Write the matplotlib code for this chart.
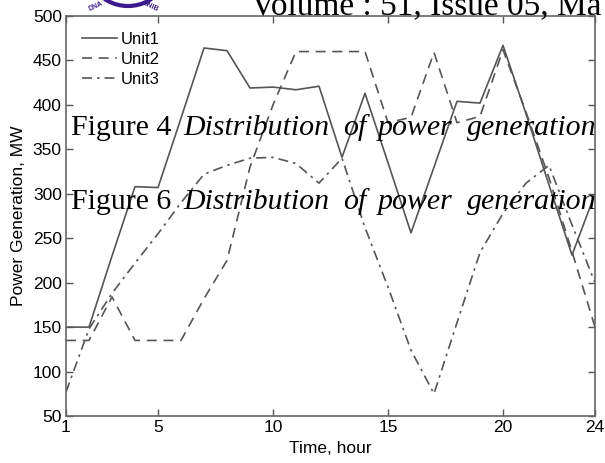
import matplotlib
matplotlib.use("Agg")
import matplotlib.pyplot as plt
from matplotlib.patches import Arc

# hourly power generation per unit (MW)
hours = list(range(1, 25))
unit1 = [150, 150, 230, 308, 307, 385, 464, 461, 419, 420, 417, 421,
         341, 413, 335, 256, 330, 404, 402, 467, 390, 310, 231, 300]
unit2 = [135, 135, 184, 135, 135, 135, 182, 225, 330, 400, 460, 460,
         460, 460, 380, 386, 459, 380, 387, 462, 392, 318, 235, 150]
unit3 = [77, 148, 188, 222, 255, 290, 322, 332, 340, 341, 334, 312,
         340, 262, 195, 124, 75, 155, 234, 278, 312, 332, 265, 200]

xticks = [1, 5, 10, 15, 20, 24]
yticks = list(range(50, 501, 50))

W, H = 605, 463
fig = plt.figure(figsize=(W / 100, H / 100), dpi=100)
plt.rcParams['font.family'] = ['Liberation Sans', 'DejaVu Sans']

ax = fig.add_axes([66 / W, 1 - 416 / H, (595 - 66) / W, 400 / H])

line_col = '#555555'
ax.plot(hours, unit1, '-', color=line_col, lw=1.2, label='Unit1')
ax.plot(hours, unit2, '--', color=line_col, lw=1.2, dashes=(6, 4), label='Unit2')
ax.plot(hours, unit3, '-.', color=line_col, lw=1.2, dashes=(6, 3, 1.5, 3), label='Unit3')

ax.set_xlim(1, 24)
ax.set_ylim(50, 500)
ax.set_xticks(xticks)
ax.set_yticks(yticks)
ax.tick_params(direction='in', length=5, width=1, color='#555555',
               top=True, right=True, labelsize=12.5, pad=3)
for s in ax.spines.values():
    s.set_color('#666666')
    s.set_linewidth(1.2)

ax.set_xlabel('Time, hour', fontsize=12.5, labelpad=4)
ax.set_ylabel('Power Generation, MW', fontsize=12.5, labelpad=5)

ax.legend(loc='upper left', frameon=False, fontsize=12, handlelength=2.1,
          handletextpad=0.25, labelspacing=0.3, borderaxespad=0.55)

# overlapping text from the source page
serif = ['Liberation Serif', 'DejaVu Serif']
fig.text(251 / W, 1 - 15 / H, 'Volume : 51, Issue 05, Ma', family=serif,
         fontsize=24, va='baseline', ha='left')

words_x = [71, 183, 343, 378, 467]
for base_y, fig_no in [(135, 'Figure 4'), (209, 'Figure 6')]:
    words = [fig_no, 'Distribution', 'of', 'power', 'generation']
    for i, (wx, word) in enumerate(zip(words_x, words)):
        fig.text(wx / W, 1 - base_y / H, word, family=serif, fontsize=21.5,
                 va='baseline', ha='left', style='normal' if i == 0 else 'italic')

# edge of the journal logo at the top
purple = '#3b1a8c'
fig.patches.append(Arc((128 / W, 1 + 22 / H), 70 / W, 56 / H, theta1=200, theta2=340,
                       transform=fig.transFigure, color=purple, lw=3))
fig.text(96 / W, 1 - 6 / H, 'DNA', color=purple, fontsize=5, rotation=25,
         ha='center', va='center', weight='bold')
fig.text(150 / W, 1 - 6 / H, 'ONIB', color=purple, fontsize=5, rotation=-25,
         ha='center', va='center', weight='bold')

fig.savefig('out.png', dpi=100)
